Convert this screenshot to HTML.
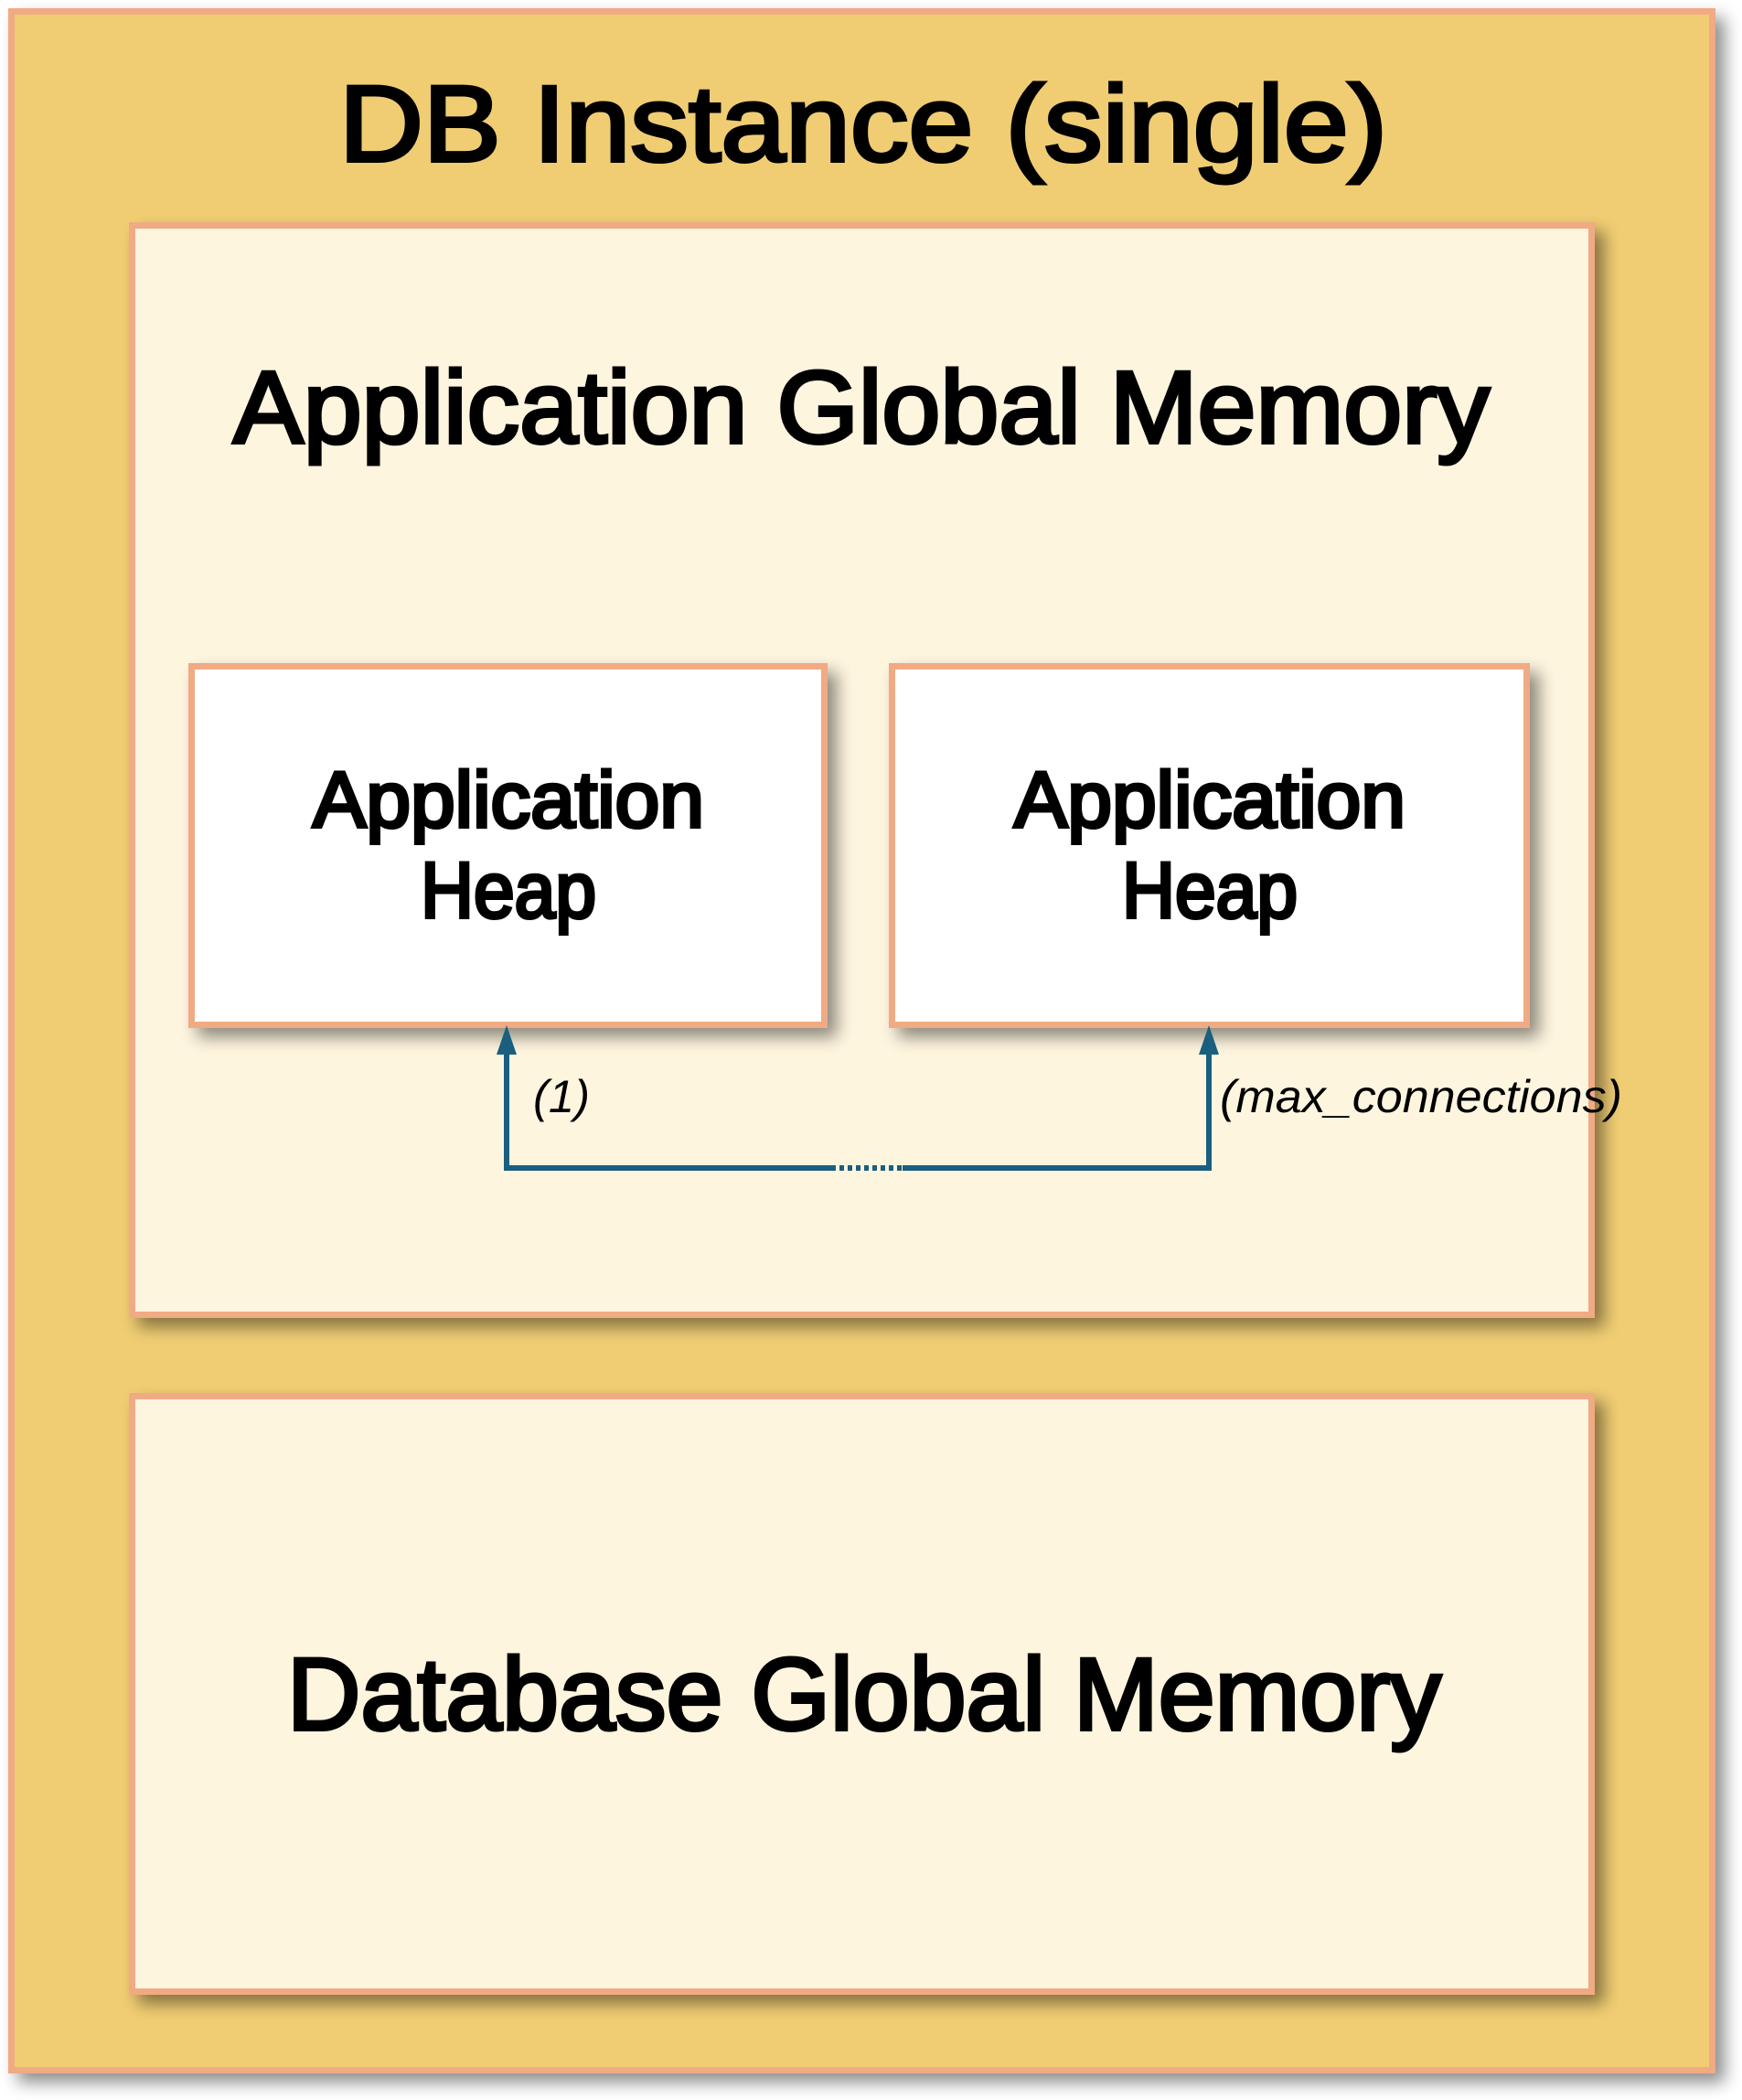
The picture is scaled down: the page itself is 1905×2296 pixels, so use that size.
<!DOCTYPE html>
<html><head><meta charset="utf-8"><style>
html,body{margin:0;padding:0;background:#fff;}
svg{display:block;}
text{font-family:"Liberation Sans","DejaVu Sans",sans-serif;fill:#000;}
.t{stroke:#000;stroke-width:4;}
</style></head><body>
<svg width="1905" height="2296" viewBox="0 0 1905 2296" xmlns="http://www.w3.org/2000/svg">
<defs>
<filter id="sh" x="-10%" y="-10%" width="130%" height="130%">
<feGaussianBlur in="SourceAlpha" stdDeviation="9"/>
<feOffset dx="10" dy="10" result="o"/>
<feComponentTransfer><feFuncA type="linear" slope="0.45"/></feComponentTransfer>
<feMerge><feMergeNode/><feMergeNode in="SourceGraphic"/></feMerge>
</filter>
</defs>
<rect x="12.5" y="12.5" width="1860" height="2251" fill="#F0CD73" stroke="#F0AA84" stroke-width="7" filter="url(#sh)"/>
<text class="t" x="944" y="176" font-size="118" text-anchor="middle" textLength="1146" lengthAdjust="spacingAndGlyphs">DB Instance (single)</text>

<rect x="144.5" y="246.5" width="1596" height="1191" fill="#FEF5DF" stroke="#F0AA84" stroke-width="7" filter="url(#sh)"/>
<text class="t" x="942" y="484" font-size="112" text-anchor="middle" textLength="1374" lengthAdjust="spacingAndGlyphs">Application Global Memory</text>

<rect x="209.5" y="728.5" width="692" height="392" fill="#fff" stroke="#F0AA84" stroke-width="7" filter="url(#sh)"/>
<rect x="975.5" y="728.5" width="694" height="392" fill="#fff" stroke="#F0AA84" stroke-width="7" filter="url(#sh)"/>
<text class="t" x="556" y="904" font-size="86" text-anchor="middle" textLength="428" lengthAdjust="spacingAndGlyphs">Application</text>
<text class="t" x="556" y="1003" font-size="86" text-anchor="middle" textLength="192" lengthAdjust="spacingAndGlyphs">Heap</text>
<text class="t" x="1323" y="904" font-size="86" text-anchor="middle" textLength="428" lengthAdjust="spacingAndGlyphs">Application</text>
<text class="t" x="1323" y="1003" font-size="86" text-anchor="middle" textLength="192" lengthAdjust="spacingAndGlyphs">Heap</text>

<g stroke="#1A5E80" stroke-width="6" fill="none">
<polyline points="554,1150 554,1277 909,1277"/>
<polyline points="1322,1150 1322,1277 987,1277"/>
<line x1="909" y1="1277" x2="987" y2="1277" stroke-dasharray="5,4"/>
</g>
<polygon points="554,1121 543,1153 565,1153" fill="#1A5E80"/>
<polygon points="1322,1121 1311,1153 1333,1153" fill="#1A5E80"/>
<text x="583" y="1216" font-size="50" font-style="italic" textLength="62" lengthAdjust="spacingAndGlyphs">(1)</text>
<text x="1334" y="1216" font-size="50" font-style="italic" textLength="440" lengthAdjust="spacingAndGlyphs">(max_connections)</text>

<rect x="144.5" y="1526.5" width="1596" height="651" fill="#FEF5DF" stroke="#F0AA84" stroke-width="7" filter="url(#sh)"/>
<text class="t" x="945" y="1891" font-size="112" text-anchor="middle" textLength="1262" lengthAdjust="spacingAndGlyphs">Database Global Memory</text>
</svg>
</body></html>
